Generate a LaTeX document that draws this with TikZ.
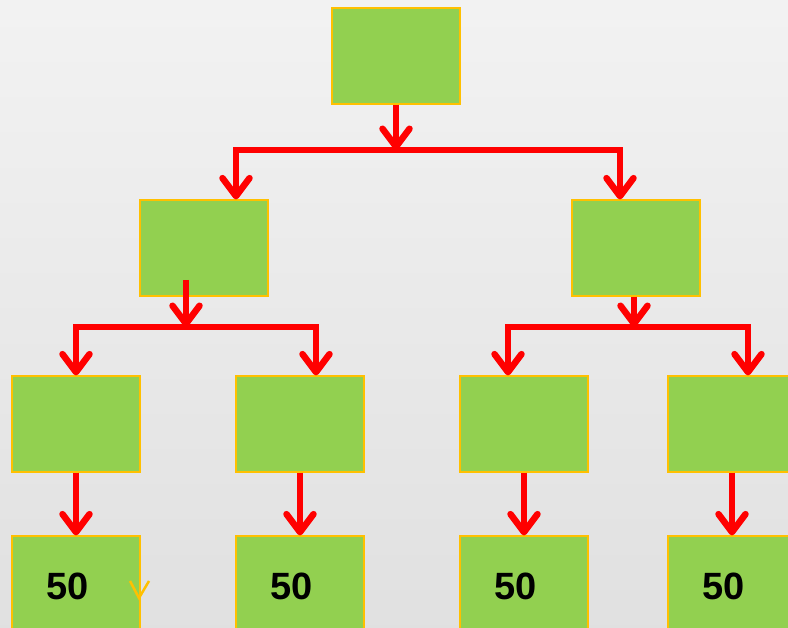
\documentclass[tikz,border=0pt]{standalone}
\usepackage{fontspec}
\setmainfont{Liberation Sans}
\usetikzlibrary{arrows.meta}
\definecolor{boxgreen}{HTML}{92D050}
\definecolor{boxedge}{HTML}{FFC000}
\begin{document}
\begin{tikzpicture}[x=1pt,y=-1pt]
      \tikzstyle{box}=[rectangle,draw=boxedge,line width=1.2pt,fill=boxgreen,minimum width=128pt,minimum height=96pt,inner sep=0pt]
      \tikzstyle{val}=[font=\bfseries\fontsize{38}{40}\selectfont,text=black,inner sep=0pt]
      \tikzstyle{redline}=[draw=red,line width=5.5pt]
      \tikzstyle{downtip}=[redline,-{Straight Barb[round,length=18pt,width=27pt,line width=6.5pt]}]
      \tikzstyle{twotips}=[redline,{Straight Barb[round,length=18pt,width=27pt,line width=6.5pt]}-{Straight Barb[round,length=18pt,width=27pt,line width=6.5pt]}]
      \shade[top color=black!5,bottom color=black!12] (0,0) rectangle (788,628);
      \useasboundingbox (0,0) rectangle (788,628);
      % boxes
      \node[box] (root) at (396,56) {};
      \node[box] (lft) at (204,248) {};
      \node[box] (rgt) at (636,248) {};
      \node[box] (m1) at (76,424) {};
      \node[box] (m2) at (300,424) {};
      \node[box] (m3) at (524,424) {};
      \node[box] (m4) at (732,424) {};
      \foreach \n/\x in {1/76,2/300,3/524,4/732}{
        \node[box] (b\n) at (\x,584) {};
        \node[val] (v\n) at ([xshift=-8pt,yshift=-2pt]b\n.center) {50};
      }
      % junctions
      \coordinate (j0) at (396,150);
      \coordinate (j0l) at (236,150);
      \coordinate (j0r) at (620,150);
      \coordinate (s1) at (186,280);
      \coordinate (j1) at (186,327);
      \coordinate (j1l) at (76,327);
      \coordinate (j1r) at (316,327);
      \coordinate (j2) at (634,327);
      \coordinate (j2l) at (508,327);
      \coordinate (j2r) at (748,327);
      % connectors
      \draw[downtip] (root.south) -- (j0);
      \draw[twotips] (j0l |- lft.north) -- (j0l) -- (j0r) -- (j0r |- rgt.north);
      \draw[downtip] (s1) -- (j1);
      \draw[twotips] (j1l |- m1.north) -- (j1l) -- (j1r) -- (j1r |- m2.north);
      \draw[downtip] (j2 |- rgt.south) -- (j2);
      \draw[twotips] (j2l |- m3.north) -- (j2l) -- (j2r) -- (j2r |- m4.north);
      \foreach \n in {1,2,3,4}
        \draw[downtip] (m\n.south) -- (b\n.north);
      % stray mark
      \draw[boxedge,line width=2.5pt] (130,581) -- (139,598) -- (149,581);
\end{tikzpicture}
\end{document}
